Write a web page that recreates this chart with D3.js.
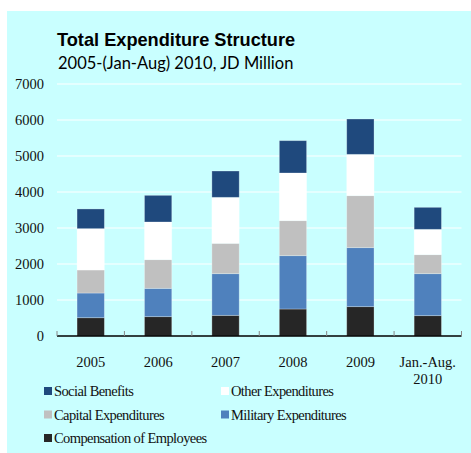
<!DOCTYPE html>
<html>
<head>
<meta charset="utf-8">
<script src="https://cdn.jsdelivr.net/npm/d3@7/dist/d3.min.js"></script>
<style>
  html, body { margin: 0; padding: 0; background: #fff; }
  svg { display: block; }
</style>
</head>
<body>
<svg id="chart" width="471" height="453"></svg>
<script>
// Expenditure by year, JD million
const categories = ["2005", "2006", "2007", "2008", "2009", "Jan.-Aug.\n2010"];
const compensation = [508, 537, 574, 750, 815, 565];
const military     = [686, 787, 1157, 1481, 1639, 1166];
const capital      = [640, 796, 843, 973, 1444, 528];
const other        = [1148, 1047, 1278, 1324, 1148, 704];
const social       = [547, 740, 731, 898, 982, 611];
const yTicks = [0, 1000, 2000, 3000, 4000, 5000, 6000, 7000];

const seriesNames = ["Compensation of Employees", "Military Expenditures", "Capital Expenditures", "Other Expenditures", "Social Benefits"];
const seriesValues = [compensation, military, capital, other, social];
const seriesColors = ["#262626", "#4f81bd", "#c0c0c0", "#ffffff", "#1f497d"];

const svg = d3.select("#chart");

// panel background
svg.append("rect").attr("x", 7).attr("y", 11).attr("width", 464).attr("height", 442).attr("fill", "#c9ffff");

const x = d3.scaleBand().domain(categories).range([57, 461.5]).paddingInner(0.595).paddingOuter(0.2975);
const xOuter = d3.scaleBand().domain(categories).range([57, 461.5]);
const y = d3.scaleLinear().domain([0, 7000]).range([336, 84]);

// gridlines
svg.append("g").selectAll("line").data(yTicks.filter(t => t > 0)).join("line")
  .attr("x1", 57).attr("x2", 461.5)
  .attr("y1", d => y(d)).attr("y2", d => y(d))
  .attr("stroke", "#ffffff").attr("stroke-width", 1);

// stacked bars
const rows = categories.map((c, i) => {
  const r = { cat: c };
  seriesNames.forEach((s, j) => r[s] = seriesValues[j][i]);
  return r;
});
const stacked = d3.stack().keys(seriesNames)(rows);
svg.append("g").selectAll("g").data(stacked).join("g")
  .attr("fill", (d, i) => seriesColors[i])
  .selectAll("rect").data(d => d).join("rect")
  .attr("x", d => x(d.data.cat))
  .attr("width", x.bandwidth())
  .attr("y", d => y(d[1]))
  .attr("height", d => y(d[0]) - y(d[1]))
  .attr("stroke", "rgba(255,255,255,0.35)")
  .attr("stroke-width", 0.8);

// y axis labels
svg.append("g").selectAll("text").data(yTicks).join("text")
  .attr("x", 44).attr("y", d => y(d)).attr("dy", "0.35em")
  .attr("text-anchor", "end")
  .attr("font-family", "Liberation Serif, serif").attr("font-size", 14.5)
  .attr("fill", "#111")
  .text(d => d);

// x axis with inward ticks
const xAxis = svg.append("g");
xAxis.append("line").attr("x1", 57).attr("x2", 461.5).attr("y1", 336).attr("y2", 336)
  .attr("stroke", "#000").attr("stroke-width", 1.3);
const boundaries = categories.map(c => xOuter(c)).concat([xOuter(categories[categories.length - 1]) + xOuter.bandwidth()]);
xAxis.selectAll("line.tick").data(boundaries).join("line").attr("class", "tick")
  .attr("x1", d => d).attr("x2", d => d).attr("y1", 331).attr("y2", 336)
  .attr("stroke", "#888").attr("stroke-width", 1);

const xl = svg.append("g").selectAll("text").data(categories).join("text")
  .attr("text-anchor", "middle")
  .attr("font-family", "Liberation Serif, serif").attr("font-size", 14.5)
  .attr("fill", "#111");
xl.each(function(c) {
  const lines = c.split("\n");
  const t = d3.select(this);
  lines.forEach((ln, k) => {
    t.append("tspan").attr("x", x(c) + x.bandwidth() / 2).attr("y", 367 + k * 16.5).text(ln);
  });
});

// titles
svg.append("text").attr("x", 57).attr("y", 46)
  .attr("font-family", "Liberation Sans, Arial, sans-serif").attr("font-weight", "bold").attr("font-size", 18.2)
  .attr("fill", "#000").text("Total Expenditure  Structure");
svg.append("text").attr("x", 58).attr("y", 69)
  .attr("font-family", "Lato, sans-serif").attr("font-size", 16.5)
  .attr("fill", "#000").text("2005-(Jan-Aug) 2010, JD Million");

// legend
const legendItems = [
  { name: "Social Benefits", color: seriesColors[4], col: 0, row: 0 },
  { name: "Other Expenditures", color: seriesColors[3], col: 1, row: 0 },
  { name: "Capital Expenditures", color: seriesColors[2], col: 0, row: 1 },
  { name: "Military Expenditures", color: seriesColors[1], col: 1, row: 1 },
  { name: "Compensation of Employees", color: seriesColors[0], col: 0, row: 2 }
];
const lg = svg.append("g").selectAll("g").data(legendItems).join("g")
  .attr("transform", d => `translate(${d.col ? 221 : 44},${391 + d.row * 23.5})`);
lg.append("rect").attr("x", 0).attr("y", -4).attr("width", 8).attr("height", 8).attr("fill", d => d.color);
lg.append("text").attr("x", 10).attr("y", 0).attr("dy", "0.35em")
  .attr("font-family", "Liberation Serif, serif").attr("font-size", 14.5)
  .attr("fill", "#111").attr("letter-spacing", -0.6)
  .text(d => d.name);
</script>
</body>
</html>
